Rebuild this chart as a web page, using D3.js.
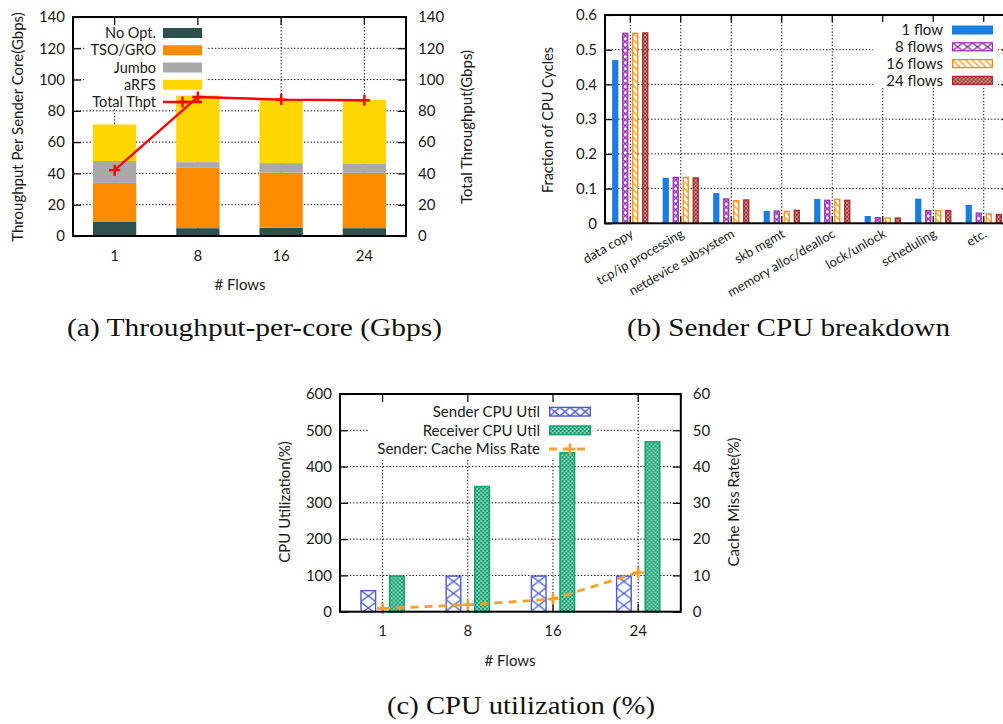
<!DOCTYPE html>
<html><head><meta charset="utf-8">
<script src="https://cdn.jsdelivr.net/npm/d3@7"></script>
<style>
body{margin:0;background:#fff;}
svg{display:block;}
text{font-family:Lato,"Open Sans",sans-serif;fill:#1a1a1a;}
.cap{font-family:"Liberation Serif",serif;fill:#111;}
.grid{stroke:#000;stroke-width:1;stroke-dasharray:1.3,2;}
</style></head><body>
<svg id="fig" width="1003" height="724"></svg>
<script>
// ---------- data ----------
const flowCounts = ["1", "8", "16", "24"];

// (a) throughput per sender core, one value per stacked layer (Gbps)
const thptLayers = ["No Opt.", "TSO/GRO", "Jumbo", "aRFS"];
const noOpt  = [9.0, 5.0, 5.3, 5.0];
const tsoGro = [25.0, 38.6, 35.3, 35.4];
const jumbo  = [14.0, 3.6, 6.0, 6.0];
const arfs   = [23.3, 42.6, 40.3, 40.6];
const totalThpt = [42.1, 88.9, 87.2, 86.8];
const thptTicks = [0, 20, 40, 60, 80, 100, 120, 140];

// (b) sender CPU breakdown (fraction of cycles)
const cpuCategories = ["data copy", "tcp/ip processing", "netdevice subsystem", "skb mgmt",
  "memory alloc/dealloc", "lock/unlock", "scheduling", "etc."];
const flowSeries = ["1 flow", "8 flows", "16 flows", "24 flows"];
const frac1  = [0.470, 0.131, 0.087, 0.0355, 0.070, 0.021, 0.071, 0.053];
const frac8  = [0.549, 0.134, 0.072, 0.037, 0.068, 0.018, 0.038, 0.031];
const frac16 = [0.549, 0.134, 0.067, 0.036, 0.071, 0.017, 0.038, 0.029];
const frac24 = [0.550, 0.1325, 0.069, 0.039, 0.068, 0.017, 0.038, 0.027];
const fracTicks = [0, 0.1, 0.2, 0.3, 0.4, 0.5, 0.6];

// (c) CPU utilization and cache miss rate
const utilSeries = ["Sender CPU Util", "Receiver CPU Util"];
const senderUtil   = [60, 100, 100, 100];
const receiverUtil = [100, 347, 440, 470];
const cacheMissRate = [0.9, 1.9, 3.5, 10.8];
const utilTicks = [0, 100, 200, 300, 400, 500, 600];
const missTicks = [0, 10, 20, 30, 40, 50, 60];

// ---------- helpers ----------
const svg = d3.select("#fig");
const defs = svg.append("defs");
let patCount = 0;

function pattern(kind, color, x, y, w, h) {
  const id = "pat" + (patCount++);
  const p = defs.append("pattern").attr("id", id).attr("patternUnits", "userSpaceOnUse");
  if (kind === "cross") {
    p.attr("x", x).attr("y", y).attr("width", w).attr("height", h);
    p.append("rect").attr("width", w).attr("height", h).attr("fill", "#fff");
    p.append("path").attr("d", `M0,0L${w},${h}M${w},0L0,${h}`)
      .attr("stroke", color).attr("stroke-width", 1.4).attr("fill", "none");
  } else if (kind === "diag") {
    p.attr("width", 4.6).attr("height", 4.6).attr("patternTransform", "rotate(-45)");
    p.append("rect").attr("width", 4.6).attr("height", 4.6).attr("fill", "#fff");
    p.append("line").attr("x1", 1).attr("x2", 1).attr("y1", 0).attr("y2", 4.6)
      .attr("stroke", color).attr("stroke-width", 1.2);
  } else {
    p.attr("x", x).attr("y", y).attr("width", 4).attr("height", 4);
    p.append("rect").attr("width", 4).attr("height", 4).attr("fill", color);
    p.append("circle").attr("cx", 1).attr("cy", 1).attr("r", 0.85).attr("fill", "#fff");
    p.append("circle").attr("cx", 3).attr("cy", 3).attr("r", 0.85).attr("fill", "#fff");
  }
  return `url(#${id})`;
}

function styleAxis(sel, size) {
  sel.select(".domain").remove();
  sel.attr("font-family", null).attr("font-size", null);
  sel.selectAll("text").attr("font-size", size).attr("fill", "#1a1a1a");
  sel.selectAll("line").attr("stroke", "#000").attr("stroke-width", 1.2);
}

function plus(g, x, y, s, color, w) {
  g.append("path").attr("d", `M${x - s},${y}H${x + s}M${x},${y - s}V${y + s}`)
    .attr("stroke", color).attr("stroke-width", w).attr("fill", "none");
}

function border(g, r) {
  g.append("rect").attr("x", r.l).attr("y", r.t).attr("width", r.r - r.l).attr("height", r.b - r.t)
    .attr("fill", "none").attr("stroke", "#000").attr("stroke-width", 2);
}

function yTitle(g, txt, x, y, size) {
  g.append("text").attr("transform", `translate(${x},${y}) rotate(-90)`)
    .attr("text-anchor", "middle").attr("dy", "0.35em").attr("font-size", size).text(txt);
}

function caption(g, txt, x, y, w) {
  g.append("text").attr("class", "cap").attr("x", x).attr("y", y).attr("text-anchor", "middle")
    .attr("font-size", 26).attr("textLength", w).attr("lengthAdjust", "spacingAndGlyphs").text(txt);
}

// ================= (a) Throughput-per-core =================
{
  const A = {l: 73, r: 406, t: 17, b: 236};
  const g = svg.append("g");
  const x = d3.scaleBand().domain(flowCounts).range([A.l, A.r]).paddingInner(0.48).paddingOuter(0.24);
  const y = d3.scaleLinear().domain([0, 140]).range([A.b, A.t]);
  const yR = d3.scaleLinear().domain([0, 140]).range([A.b, A.t]);
  const cx = d => x(d) + x.bandwidth() / 2;
  const color = d3.scaleOrdinal(thptLayers, ["#2f4f4f", "#ff8c00", "#a9a9a9", "#ffd700"]);

  g.append("g").selectAll("line").data(thptTicks.slice(1, -1)).join("line").attr("class", "grid")
    .attr("x1", A.l).attr("x2", A.r).attr("y1", d => y(d)).attr("y2", d => y(d));
  g.append("g").selectAll("line").data(flowCounts).join("line").attr("class", "grid")
    .attr("x1", cx).attr("x2", cx).attr("y1", A.t).attr("y2", A.b);
  // key area
  g.append("rect").attr("x", 86).attr("y", A.t + 1).attr("width", 120).attr("height", 90).attr("fill", "#fff");

  g.append("g").attr("transform", `translate(${A.l},0)`)
    .call(d3.axisLeft(y).tickValues(thptTicks).tickSize(-8).tickPadding(8)).call(styleAxis, 15);
  g.append("g").attr("transform", `translate(${A.r},0)`)
    .call(d3.axisRight(yR).tickValues(thptTicks).tickSize(-8).tickPadding(12)).call(styleAxis, 15);
  g.append("g").attr("transform", `translate(0,${A.b})`)
    .call(d3.axisBottom(x).tickSize(-8).tickPadding(14)).call(styleAxis, 15);
  g.append("g").attr("transform", `translate(0,${A.t})`)
    .call(d3.axisTop(x).tickSize(-8).tickFormat("")).call(styleAxis, 15);

  const rows = flowCounts.map((f, i) => ({flow: f, "No Opt.": noOpt[i], "TSO/GRO": tsoGro[i], "Jumbo": jumbo[i], "aRFS": arfs[i]}));
  const stacked = d3.stack().keys(thptLayers)(rows);
  g.append("g").selectAll("g").data(stacked).join("g").attr("fill", s => color(s.key))
    .selectAll("rect").data(s => s).join("rect")
    .attr("x", d => x(d.data.flow)).attr("width", x.bandwidth())
    .attr("y", d => y(d[1])).attr("height", d => y(d[0]) - y(d[1]));

  g.append("path").datum(totalThpt)
    .attr("d", d3.line().x((v, i) => cx(flowCounts[i])).y(v => yR(v)))
    .attr("fill", "none").attr("stroke", "#ff0000").attr("stroke-width", 2.4);
  totalThpt.forEach((v, i) => plus(g, cx(flowCounts[i]), yR(v), 5.5, "#ff0000", 2.4));

  border(g, A);

  // key
  const ky = i => 33 + i * 17.25;
  thptLayers.forEach((k, i) => {
    g.append("text").attr("x", 156).attr("y", ky(i)).attr("dy", "0.35em").attr("text-anchor", "end")
      .attr("font-size", 14.5).text(k);
    g.append("rect").attr("x", 163).attr("y", ky(i) - 5).attr("width", 39).attr("height", 10).attr("fill", color(k));
  });
  g.append("text").attr("x", 156).attr("y", ky(4)).attr("dy", "0.35em").attr("text-anchor", "end")
    .attr("font-size", 14.5).text("Total Thpt");
  g.append("line").attr("x1", 163).attr("x2", 202).attr("y1", ky(4)).attr("y2", ky(4))
    .attr("stroke", "#ff0000").attr("stroke-width", 2.4);
  plus(g, 182.5, ky(4), 5.5, "#ff0000", 2.4);

  yTitle(g, "Throughput Per Sender Core(Gbps)", 18, 127, 15);
  yTitle(g, "Total Throughput(Gbps)", 467, 127, 15);
  g.append("text").attr("x", 240).attr("y", 285).attr("dy", "0.35em").attr("text-anchor", "middle")
    .attr("font-size", 15).text("# Flows");
  caption(g, "(a) Throughput-per-core (Gbps)", 254.5, 336, 375);
}

// ================= (b) Sender CPU breakdown =================
{
  const B = {l: 605, r: 1009, t: 15, b: 223.3};
  const g = svg.append("g");
  const x0 = d3.scaleBand().domain(cpuCategories).range([B.l, B.r]);
  const x1 = d3.scaleBand().domain(flowSeries).range([-20, 20]).paddingInner(0.38).paddingOuter(0.19);
  const y = d3.scaleLinear().domain([0, 0.6]).range([B.b, B.t]);
  const cx = d => x0(d) + x0.bandwidth() / 2;
  const values = [frac1, frac8, frac16, frac24];
  const colors = ["#197de6", "#9b2fb3", "#ff8c00", "#a52a2a"];
  const kinds = ["solid", "cross", "diag", "dots"];

  g.append("g").selectAll("line").data(fracTicks.slice(1, -1)).join("line").attr("class", "grid")
    .attr("x1", B.l).attr("x2", B.r).attr("y1", d => y(d)).attr("y2", d => y(d));
  g.append("g").selectAll("line").data(cpuCategories).join("line").attr("class", "grid")
    .attr("x1", cx).attr("x2", cx).attr("y1", B.t).attr("y2", B.b);
  g.append("rect").attr("x", 873).attr("y", B.t + 1).attr("width", 125).attr("height", 72).attr("fill", "#fff");

  g.append("g").attr("transform", `translate(${B.l},0)`)
    .call(d3.axisLeft(y).tickValues(fracTicks).tickFormat(d3.format("~g")).tickSize(-7).tickPadding(8)).call(styleAxis, 15);
  g.append("g").attr("transform", `translate(${B.r},0)`)
    .call(d3.axisRight(y).tickValues(fracTicks).tickSize(-7).tickFormat("")).call(styleAxis, 15);
  g.append("g").attr("transform", `translate(0,${B.b})`)
    .call(d3.axisBottom(x0).tickSize(-7).tickFormat("")).call(styleAxis, 15);
  g.append("g").attr("transform", `translate(0,${B.t})`)
    .call(d3.axisTop(x0).tickSize(-7).tickFormat("")).call(styleAxis, 15);

  const bw = x1.bandwidth();
  flowSeries.forEach((s, si) => {
    cpuCategories.forEach((c, ci) => {
      const v = values[si][ci];
      const bx = cx(c) + x1(s), by = y(v), bh = y(0) - y(v);
      if (kinds[si] === "solid") {
        g.append("rect").attr("x", bx).attr("y", by).attr("width", bw).attr("height", bh).attr("fill", colors[si]);
      } else {
        g.append("rect").attr("x", bx + 0.6).attr("y", by + 0.6).attr("width", bw - 1.2).attr("height", bh - 0.6)
          .attr("fill", pattern(kinds[si], colors[si], bx, by, bw, 6))
          .attr("stroke", colors[si]).attr("stroke-width", 1.3);
      }
    });
  });

  border(g, B);

  const ky = i => 30 + i * 16.8;
  flowSeries.forEach((s, i) => {
    g.append("text").attr("x", 943).attr("y", ky(i)).attr("dy", "0.35em").attr("text-anchor", "end")
      .attr("font-size", 15).text(s);
    if (kinds[i] === "solid") {
      g.append("rect").attr("x", 952).attr("y", ky(i) - 4.5).attr("width", 41).attr("height", 9).attr("fill", colors[i]);
    } else {
      g.append("rect").attr("x", 952.6).attr("y", ky(i) - 4).attr("width", 39.8).attr("height", 8)
        .attr("fill", pattern(kinds[i], colors[i], 952.6, ky(i) - 4, 9.95, 8))
        .attr("stroke", colors[i]).attr("stroke-width", 1.3);
    }
  });

  g.selectAll("text.xl").data(cpuCategories).join("text").attr("class", "xl")
    .attr("transform", d => `translate(${cx(d) + 4},${B.b + 13}) rotate(-30)`)
    .attr("text-anchor", "end").attr("font-size", 13).text(d => d);
  yTitle(g, "Fraction of CPU Cycles", 548, 120, 14.5);
  caption(g, "(b) Sender CPU breakdown", 788.5, 336, 323);
}

// ================= (c) CPU utilization =================
{
  const C = {l: 340, r: 680.8, t: 394, b: 611.7};
  const g = svg.append("g");
  const x0 = d3.scaleBand().domain(flowCounts).range([C.l, C.r]);
  const x1 = d3.scaleBand().domain(utilSeries).range([-28.6, 28.6]).paddingInner(0.44).paddingOuter(0.22);
  const y = d3.scaleLinear().domain([0, 600]).range([C.b, C.t]);
  const yR = d3.scaleLinear().domain([0, 60]).range([C.b, C.t]);
  const cx = d => x0(d) + x0.bandwidth() / 2;
  const sendColor = "#4b5bd2", recvColor = "#12a070", missColor = "#f9a02a";

  g.append("g").selectAll("line").data(utilTicks.slice(1, -1)).join("line").attr("class", "grid")
    .attr("x1", C.l).attr("x2", C.r).attr("y1", d => y(d)).attr("y2", d => y(d));
  g.append("g").selectAll("line").data(flowCounts).join("line").attr("class", "grid")
    .attr("x1", cx).attr("x2", cx).attr("y1", C.t).attr("y2", C.b);
  g.append("rect").attr("x", 368).attr("y", C.t + 1).attr("width", 229).attr("height", 63).attr("fill", "#fff");

  g.append("g").attr("transform", `translate(${C.l},0)`)
    .call(d3.axisLeft(y).tickValues(utilTicks).tickSize(-8).tickPadding(8)).call(styleAxis, 15);
  g.append("g").attr("transform", `translate(${C.r},0)`)
    .call(d3.axisRight(yR).tickValues(missTicks).tickSize(-8).tickPadding(12)).call(styleAxis, 15);
  g.append("g").attr("transform", `translate(0,${C.b})`)
    .call(d3.axisBottom(x0).tickSize(-8).tickPadding(14)).call(styleAxis, 15);
  g.append("g").attr("transform", `translate(0,${C.t})`)
    .call(d3.axisTop(x0).tickSize(-8).tickFormat("")).call(styleAxis, 15);

  const bw = x1.bandwidth();
  flowCounts.forEach((f, i) => {
    const sx = cx(f) + x1(utilSeries[0]), sy = y(senderUtil[i]);
    g.append("rect").attr("x", sx + 0.7).attr("y", sy + 0.7).attr("width", bw - 1.4).attr("height", y(0) - sy - 0.7)
      .attr("fill", pattern("cross", sendColor, sx, sy, bw, 12)).attr("stroke", sendColor).attr("stroke-width", 1.4);
    const rx = cx(f) + x1(utilSeries[1]), ry = y(receiverUtil[i]);
    g.append("rect").attr("x", rx + 0.7).attr("y", ry + 0.7).attr("width", bw - 1.4).attr("height", y(0) - ry - 0.7)
      .attr("fill", pattern("dots", recvColor, rx, ry, bw, 4)).attr("stroke", recvColor).attr("stroke-width", 1.5);
  });

  g.append("path").datum(cacheMissRate)
    .attr("d", d3.line().x((v, i) => cx(flowCounts[i])).y(v => yR(v)))
    .attr("fill", "none").attr("stroke", missColor).attr("stroke-width", 2.8).attr("stroke-dasharray", "8,6");
  cacheMissRate.forEach((v, i) => plus(g, cx(flowCounts[i]), yR(v), 5.5, missColor, 2.6));

  border(g, C);

  const ky = i => 411.7 + i * 18.65;
  const labels = ["Sender CPU Util", "Receiver CPU Util", "Sender: Cache Miss Rate"];
  labels.forEach((t, i) => g.append("text").attr("x", 540).attr("y", ky(i)).attr("dy", "0.35em")
    .attr("text-anchor", "end").attr("font-size", 15).text(t));
  g.append("rect").attr("x", 549.7).attr("y", ky(0) - 4.3).attr("width", 40.6).attr("height", 8.6)
    .attr("fill", pattern("cross", sendColor, 549.7, ky(0) - 4.3, 10.15, 8.6)).attr("stroke", sendColor).attr("stroke-width", 1.4);
  g.append("rect").attr("x", 549.7).attr("y", ky(1) - 4.3).attr("width", 40.6).attr("height", 8.6)
    .attr("fill", pattern("dots", recvColor, 549.7, ky(1) - 4.3, 4, 4)).attr("stroke", recvColor).attr("stroke-width", 1.5);
  g.append("line").attr("x1", 549).attr("x2", 591).attr("y1", ky(2)).attr("y2", ky(2))
    .attr("stroke", missColor).attr("stroke-width", 2.8).attr("stroke-dasharray", "8,6");
  plus(g, 570, ky(2), 5.5, missColor, 2.6);

  yTitle(g, "CPU Utilization(%)", 285, 502, 15);
  yTitle(g, "Cache Miss Rate(%)", 734, 502, 15);
  g.append("text").attr("x", 510).attr("y", 661).attr("dy", "0.35em").attr("text-anchor", "middle")
    .attr("font-size", 15).text("# Flows");
  caption(g, "(c) CPU utilization (%)", 521, 714, 268);
}
</script>
</body></html>
